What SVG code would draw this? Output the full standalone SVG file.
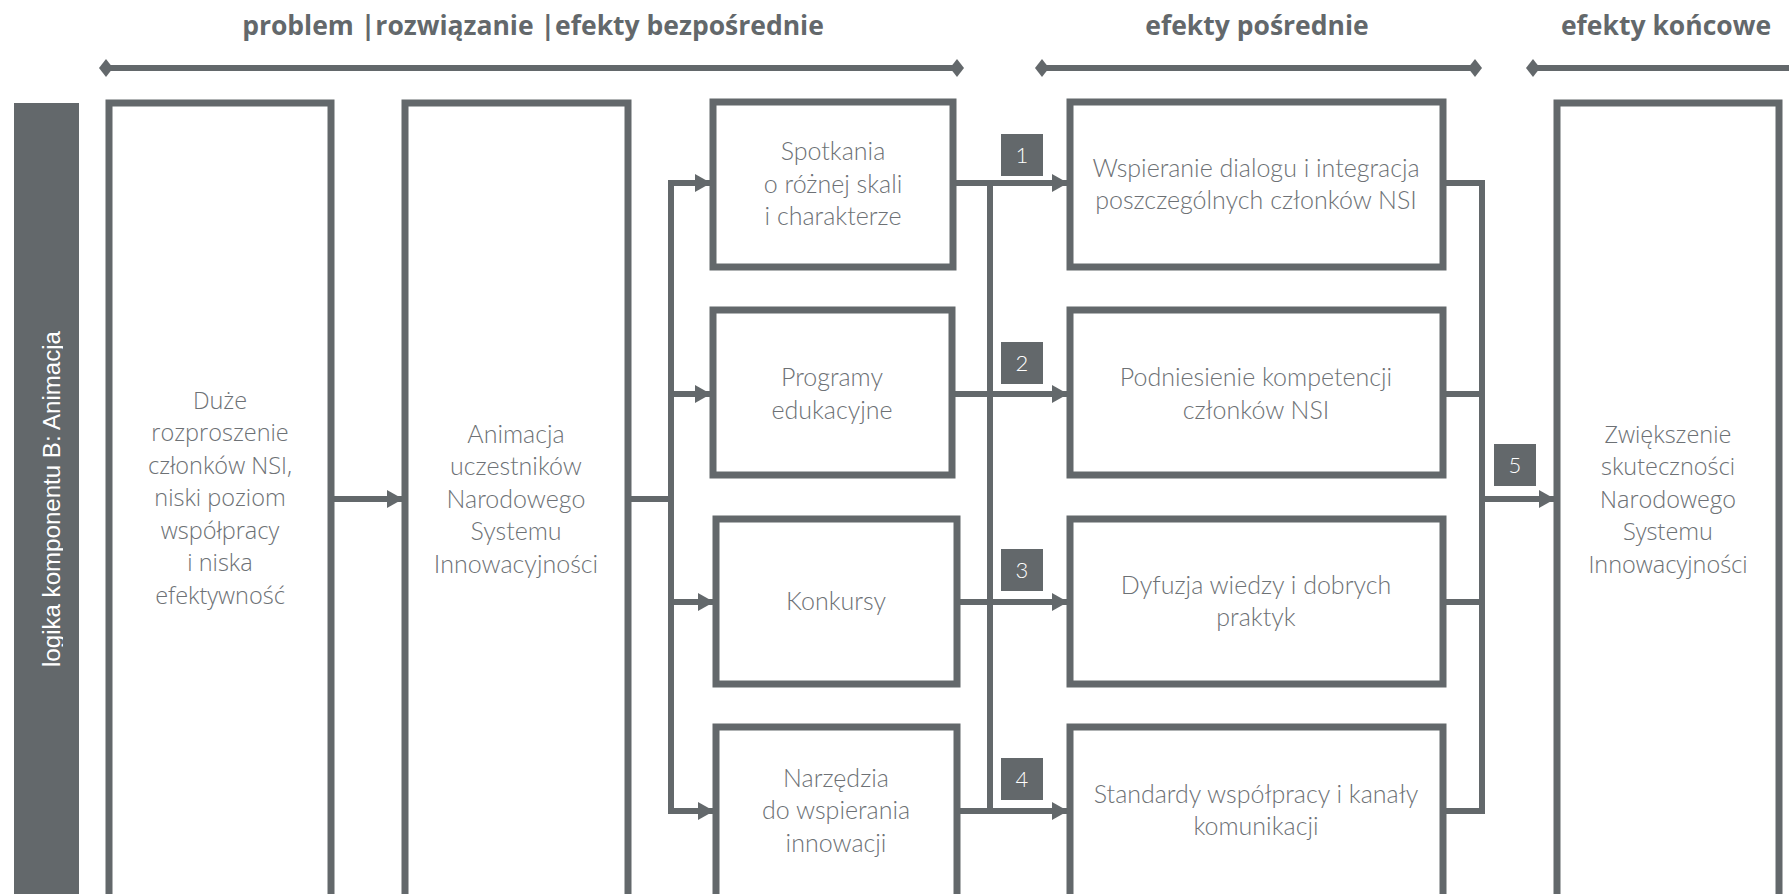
<svg xmlns="http://www.w3.org/2000/svg" width="1789" height="894" viewBox="0 0 1789 894">
  <style>
    .box { fill: #ffffff; stroke: #63686b; stroke-width: 7; }
    .hdr { font-family: "Open Sans", "Liberation Sans", sans-serif; font-weight: 700; font-size: 26.5px; fill: #63686b; text-anchor: middle; }
    .lbl { font-family: Lato, "Liberation Sans", sans-serif; font-weight: 300; font-size: 25px; fill: #6d7175; text-anchor: middle; }
    .wide { font-family: "Open Sans", "Liberation Sans", sans-serif; font-weight: 300; font-size: 23.5px; fill: #6d7175; text-anchor: middle; }
    .num { font-family: Lato, "Liberation Sans", sans-serif; font-weight: 300; font-size: 22px; fill: #ffffff; text-anchor: middle; }
    .badge { fill: #63686b; }
    .wire { fill: none; stroke: #63686b; stroke-width: 6; }
    .arrow { fill: none; stroke: #63686b; stroke-width: 6; marker-end: url(#head); }
    .span { fill: none; stroke: #63686b; stroke-width: 6; marker-start: url(#diamond); marker-end: url(#diamond); }
  </style>
  <defs>
    <marker id="head" markerUnits="userSpaceOnUse" markerWidth="16" markerHeight="18" refX="15" refY="9" orient="auto">
      <path d="M0,0 L16,9 L0,18 z" fill="#63686b"/>
    </marker>
    <marker id="diamond" markerUnits="userSpaceOnUse" markerWidth="14" markerHeight="18" refX="7" refY="9" orient="auto">
      <path d="M0,9 L7,0 L14,9 L7,18 z" fill="#63686b"/>
    </marker>
    <clipPath id="sideClip">
      <rect x="14" y="103" width="49" height="791"/>
    </clipPath>
  </defs>

  <!-- column headers -->
  <g id="headers">
    <text class="hdr" x="533" y="35">problem |rozwiązanie |efekty bezpośrednie</text>
    <text class="hdr" x="1257" y="35">efekty pośrednie</text>
    <text class="hdr" x="1666" y="35">efekty końcowe</text>
    <line class="span" x1="106" y1="68" x2="957" y2="68"/>
    <line class="span" x1="1042" y1="68" x2="1475" y2="68"/>
    <line class="span" x1="1533" y1="68" x2="1800" y2="68"/>
  </g>

  <!-- side band -->
  <g id="side">
    <rect x="14" y="103" width="65" height="800" fill="#63686b"/>
    <g clip-path="url(#sideClip)">
      <text transform="translate(60,499) rotate(-90)" x="0" y="0" text-anchor="middle" font-family="'Liberation Sans', sans-serif" font-size="23" fill="#ffffff" textLength="336" lengthAdjust="spacingAndGlyphs">logika komponentu B: Animacja</text>
    </g>
  </g>

  <!-- connectors -->
  <g id="connectors">
    <line class="arrow" x1="334" y1="499" x2="402" y2="499"/>
    <polyline class="wire" points="631,499 674,499"/>
    <line class="wire" x1="671" y1="180" x2="671" y2="814"/>
    <line class="arrow" x1="668" y1="183" x2="710" y2="183"/>
    <line class="arrow" x1="668" y1="394" x2="710" y2="394"/>
    <line class="arrow" x1="668" y1="602" x2="713" y2="602"/>
    <line class="arrow" x1="668" y1="811" x2="713" y2="811"/>

    <line class="wire" x1="990" y1="180" x2="990" y2="814"/>
    <line class="arrow" x1="956" y1="183" x2="1067" y2="183"/>
    <line class="arrow" x1="955" y1="394" x2="1067" y2="394"/>
    <line class="arrow" x1="960" y1="602" x2="1067" y2="602"/>
    <line class="arrow" x1="960" y1="811" x2="1067" y2="811"/>

    <polyline class="wire" points="1446,183 1482,183 1482,811 1446,811"/>
    <line class="wire" x1="1446" y1="394" x2="1485" y2="394"/>
    <line class="wire" x1="1446" y1="602" x2="1485" y2="602"/>
    <line class="arrow" x1="1479" y1="499" x2="1554" y2="499"/>
  </g>

  <!-- step badges -->
  <g id="badges">
    <rect class="badge" x="1001" y="134" width="42" height="42"/>
    <text class="num" x="1022" y="163">1</text>
    <rect class="badge" x="1001" y="342" width="42" height="42"/>
    <text class="num" x="1022" y="371">2</text>
    <rect class="badge" x="1001" y="549" width="42" height="42"/>
    <text class="num" x="1022" y="578">3</text>
    <rect class="badge" x="1001" y="758" width="42" height="42"/>
    <text class="num" x="1022" y="787">4</text>
    <rect class="badge" x="1494" y="444" width="42" height="42"/>
    <text class="num" x="1515" y="473">5</text>
  </g>

  <g id="problem">
    <rect class="box" x="109" y="103" width="222" height="800"/>
    <text class="wide" x="220" y="409">Duże</text>
    <text class="wide" x="220" y="441">rozproszenie</text>
    <text class="wide" x="220" y="474">członków NSI,</text>
    <text class="wide" x="220" y="506">niski poziom</text>
    <text class="wide" x="220" y="539">współpracy</text>
    <text class="wide" x="220" y="571">i niska</text>
    <text class="wide" x="220" y="604">efektywność</text>
  </g>

  <g id="solution">
    <rect class="box" x="405" y="103" width="223" height="800"/>
    <text class="lbl" x="516" y="443">Animacja</text>
    <text class="lbl" x="516" y="475">uczestników</text>
    <text class="lbl" x="516" y="508">Narodowego</text>
    <text class="lbl" x="516" y="540">Systemu</text>
    <text class="lbl" x="516" y="573">Innowacyjności</text>
  </g>

  <g id="spotkania">
    <rect class="box" x="713" y="102" width="240" height="165"/>
    <text class="lbl" x="833" y="160">Spotkania</text>
    <text class="lbl" x="833" y="193">o różnej skali</text>
    <text class="lbl" x="833" y="225">i charakterze</text>
  </g>

  <g id="programy">
    <rect class="box" x="713" y="310" width="239" height="165"/>
    <text class="lbl" x="832" y="386">Programy</text>
    <text class="lbl" x="832" y="419">edukacyjne</text>
  </g>

  <g id="konkursy">
    <rect class="box" x="716" y="519" width="241" height="165"/>
    <text class="lbl" x="836" y="610">Konkursy</text>
  </g>

  <g id="narzedzia">
    <rect class="box" x="716" y="727" width="241" height="200"/>
    <text class="lbl" x="836" y="787">Narzędzia</text>
    <text class="lbl" x="836" y="819">do wspierania</text>
    <text class="lbl" x="836" y="852">innowacji</text>
  </g>

  <g id="dialog">
    <rect class="box" x="1070" y="102" width="373" height="165"/>
    <text class="lbl" x="1256" y="177">Wspieranie dialogu i integracja</text>
    <text class="lbl" x="1256" y="209">poszczególnych członków NSI</text>
  </g>

  <g id="kompetencje">
    <rect class="box" x="1070" y="310" width="373" height="165"/>
    <text class="lbl" x="1256" y="386">Podniesienie kompetencji</text>
    <text class="lbl" x="1256" y="419">członków NSI</text>
  </g>

  <g id="dyfuzja">
    <rect class="box" x="1070" y="519" width="373" height="165"/>
    <text class="lbl" x="1256" y="594">Dyfuzja wiedzy i dobrych</text>
    <text class="lbl" x="1256" y="626">praktyk</text>
  </g>

  <g id="standardy">
    <rect class="box" x="1070" y="727" width="373" height="200"/>
    <text class="lbl" x="1256" y="803">Standardy współpracy i kanały</text>
    <text class="lbl" x="1256" y="835">komunikacji</text>
  </g>

  <g id="outcome">
    <rect class="box" x="1557" y="103" width="222" height="800"/>
    <text class="wide" x="1668" y="443">Zwiększenie</text>
    <text class="wide" x="1668" y="475">skuteczności</text>
    <text class="wide" x="1668" y="508">Narodowego</text>
    <text class="wide" x="1668" y="540">Systemu</text>
    <text class="wide" x="1668" y="573">Innowacyjności</text>
  </g>
</svg>
